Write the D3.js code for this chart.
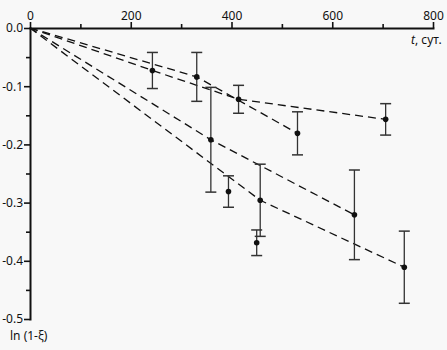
<!DOCTYPE html>
<html>
<head>
<meta charset="utf-8">
<script src="https://cdn.jsdelivr.net/npm/d3@7"></script>
<style>
  body { margin: 0; background: #f8f8f8; }
  svg { display: block; font-family: "Noto Sans", sans-serif; }
</style>
</head>
<body>
<script>
// time, days
const T_A = [0, 243, 414, 706];
const Y_A = [0, -0.073, -0.1225, -0.157];
const E_A = [0, 0.031, 0.024, 0.027];

const T_B = [0, 331, 531];
const Y_B = [0, -0.084, -0.181];
const E_B = [0, 0.042, 0.037];

const T_C = [0, 359, 644];
const Y_C = [0, -0.192, -0.321];
const E_C = [0, 0.09, 0.077];

const T_D = [0, 457, 743];
const Y_D = [0, -0.296, -0.411];
const E_D = [0, 0.062, 0.062];

// points without a fitted line
const T_E = [394, 450];
const Y_E = [-0.281, -0.369];
const E_E = [0.027, 0.022];

const X_TICKS = [0, 200, 400, 600, 800];
const X_MINOR = [100, 300, 500, 700];
const Y_TICKS = [0, -0.1, -0.2, -0.3, -0.4, -0.5];
const Y_MINOR = [-0.05, -0.15, -0.25, -0.35, -0.45];

const width = 447;
const height = 350;

const x = d3.scaleLinear().domain([0, 800]).range([30, 433]);
const y = d3.scaleLinear().domain([0, -0.5]).range([28, 319]);

function toPoints(ts, ys, es) {
  return ts.map(function (t, i) { return { t: t, v: ys[i], e: es[i] }; });
}

document.addEventListener("DOMContentLoaded", function () {
  let svg = d3.select("body").append("svg")
    .attr("width", width)
    .attr("height", height);

  svg.append("rect")
    .attr("width", width).attr("height", height)
    .attr("fill", "#f8f8f8");

  // axes
  let xAxis = svg.append("g")
    .attr("transform", "translate(0," + y(0) + ")")
    .call(d3.axisTop(x).tickValues(X_TICKS).tickSize(6).tickSizeOuter(0).tickPadding(2));
  svg.append("g")
    .attr("transform", "translate(0," + y(0) + ")")
    .call(d3.axisTop(x).tickValues(X_MINOR).tickSize(4).tickSizeOuter(0).tickFormat(""))
    .select(".domain").remove();

  let yAxis = svg.append("g")
    .attr("transform", "translate(" + x(0) + ",0)")
    .call(d3.axisLeft(y).tickValues(Y_TICKS).tickSize(6).tickSizeOuter(0).tickPadding(1)
      .tickFormat(function (d) { return d.toFixed(1); }));
  svg.append("g")
    .attr("transform", "translate(" + x(0) + ",0)")
    .call(d3.axisLeft(y).tickValues(Y_MINOR).tickSize(4).tickSizeOuter(0).tickFormat(""))
    .select(".domain").remove();

  svg.selectAll(".domain").attr("stroke", "#111").attr("stroke-width", 2).attr("stroke-linecap", "square");
  svg.selectAll(".tick line").attr("stroke", "#111").attr("stroke-width", 1.6);
  svg.selectAll(".tick text")
    .attr("fill", "#111")
    .style("font-size", "12px")
    .style("font-family", "'Noto Sans', sans-serif");

  // axis titles
  let tTitle = svg.append("text")
    .attr("x", 411).attr("y", 44)
    .style("font-size", "12px")
    .attr("fill", "#111");
  tTitle.append("tspan").style("font-style", "italic").text("t");
  tTitle.append("tspan").text(", сут.");

  svg.append("text")
    .attr("x", 10).attr("y", 340)
    .style("font-size", "12px")
    .attr("fill", "#111")
    .text("ln (1-ξ)");

  let lined = [
    toPoints(T_A, Y_A, E_A),
    toPoints(T_B, Y_B, E_B),
    toPoints(T_C, Y_C, E_C),
    toPoints(T_D, Y_D, E_D)
  ];
  let extra = toPoints(T_E, Y_E, E_E);

  let line = d3.line()
    .x(function (d) { return x(d.t); })
    .y(function (d) { return y(d.v); });

  svg.selectAll(".fit")
    .data(lined)
    .enter()
      .append("path")
      .attr("class", "fit")
      .attr("d", line)
      .attr("fill", "none")
      .attr("stroke", "#111")
      .attr("stroke-width", 1.3)
      .attr("stroke-dasharray", "8,5");

  // all measured points (origin is not a measurement)
  let pts = [];
  lined.forEach(function (s) { s.forEach(function (d) { if (d.t > 0) pts.push(d); }); });
  extra.forEach(function (d) { pts.push(d); });

  let bars = svg.selectAll(".err")
    .data(pts)
    .enter()
      .append("g")
      .attr("class", "err")
      .attr("stroke", "#333");

  bars.append("line")
    .attr("x1", function (d) { return x(d.t); })
    .attr("x2", function (d) { return x(d.t); })
    .attr("y1", function (d) { return y(d.v + d.e); })
    .attr("y2", function (d) { return y(d.v - d.e); })
    .attr("stroke-width", 1.3);

  [1, -1].forEach(function (s) {
    bars.append("line")
      .attr("x1", function (d) { return x(d.t) - 5.5; })
      .attr("x2", function (d) { return x(d.t) + 5.5; })
      .attr("y1", function (d) { return y(d.v + s * d.e); })
      .attr("y2", function (d) { return y(d.v + s * d.e); })
      .attr("stroke-width", 1.5);
  });

  svg.selectAll(".pt")
    .data(pts)
    .enter()
      .append("circle")
      .attr("class", "pt")
      .attr("cx", function (d) { return x(d.t); })
      .attr("cy", function (d) { return y(d.v); })
      .attr("r", 2.8)
      .attr("fill", "#111");
});
</script>
</body>
</html>
